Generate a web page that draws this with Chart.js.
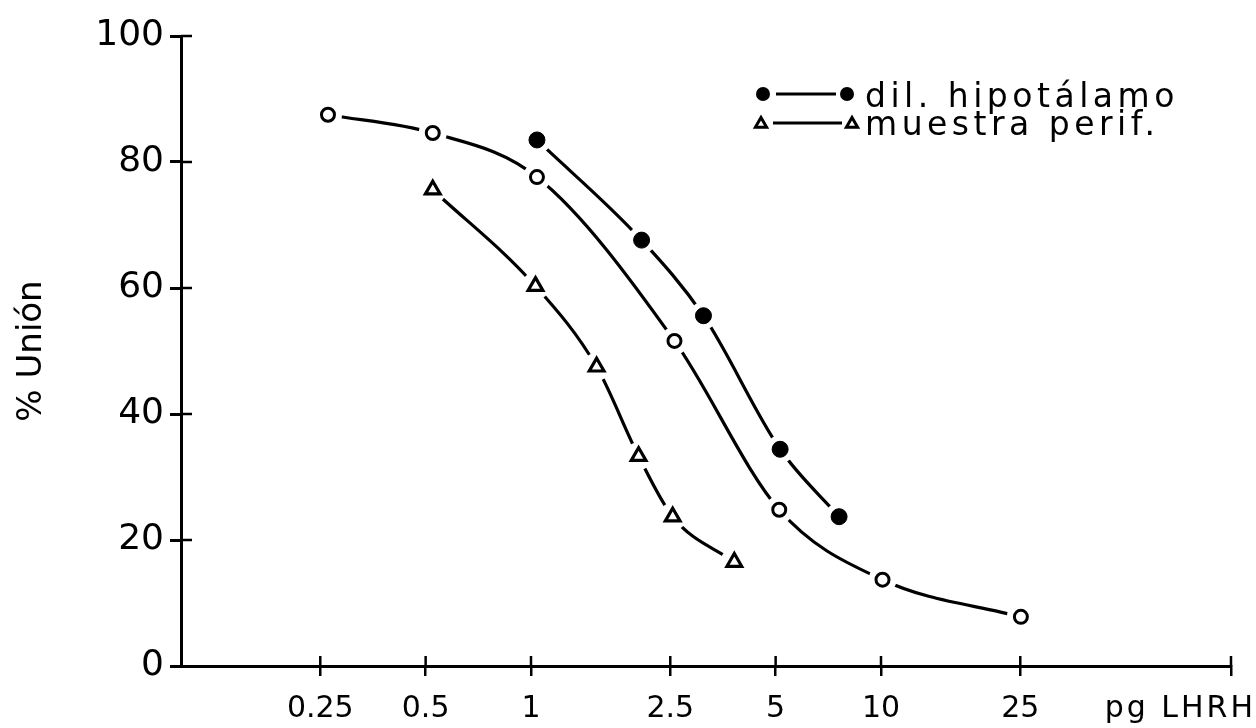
<!DOCTYPE html>
<html>
<head>
<meta charset="utf-8">
<script src="https://cdn.jsdelivr.net/npm/chart.js@4.4.0/dist/chart.umd.min.js"></script>
<style>
html, body { margin: 0; padding: 0; background: #fff; }
#wrap { width: 1256px; height: 728px; }
</style>
</head>
<body>
<div id="wrap"><canvas id="chart" width="1256" height="728"></canvas></div>
<script>
// ───── LHRH displacement curves ─────────────────────────────────────────────
// Log x axis (pg LHRH), % binding on y. Open circles = standard curve,
// filled circles = hypothalamus dilutions, triangles = peripheral sample.

const X_TICKS = [0.25, 0.5, 1, 2.5, 5, 10, 25, 100];
const X_TICK_LABELS = ['0.25', '0.5', '1', '2.5', '5', '10', '25', ''];
const X_UNIT = 'pg LHRH';
const Y_TITLE = '% Unión';

// standard curve (open circles, no legend entry)
const STD_X = [0.263, 0.524, 1.04, 2.57, 5.12, 10.1, 25.1];
const STD_Y = [87.5, 84.6, 77.6, 51.6, 24.8, 13.7, 7.8];

// dil. hipotálamo (filled circles)
const HIPO_X = [1.04, 2.07, 3.11, 5.15, 7.59];
const HIPO_Y = [83.5, 67.6, 55.6, 34.4, 23.7];

// muestra perif. (triangles)
const PERIF_X = [0.524, 1.03, 1.54, 2.03, 2.54, 3.81];
const PERIF_Y = [75.6, 60.3, 47.5, 33.3, 23.7, 16.5];

const LEGEND_LABELS = ['dil. hipotálamo', 'muestra perif.'];

const FONT = "'DejaVu Sans', sans-serif";

function pts(xs, ys) {
  return xs.map((x, i) => ({ x, y: ys[i] }));
}

function curve(xs, ys) {
  return {
    data: pts(xs, ys),
    showLine: true,
    borderColor: '#000',
    borderWidth: 3.2,
    pointRadius: 0,
    cubicInterpolationMode: 'monotone',
    fill: false,
    order: 3,
  };
}

// white disc behind each marker so the line stops short of it
function halo(xs, ys) {
  return {
    data: pts(xs, ys),
    showLine: false,
    pointRadius: 14,
    pointBackgroundColor: '#fff',
    pointBorderWidth: 0,
    order: 2,
  };
}

function marks(xs, ys, style, radius, fillColor, bw) {
  return {
    data: pts(xs, ys),
    showLine: false,
    pointStyle: style,
    pointRadius: radius,
    pointBackgroundColor: fillColor,
    pointBorderColor: '#000',
    pointBorderWidth: bw,
    order: 1,
  };
}

// tick marks that cross the axis line (Chart.js only draws the outer half)
const crossTicks = {
  id: 'crossTicks',
  afterDraw(chart) {
    const { ctx, scales: { x, y }, chartArea } = chart;
    ctx.save();
    ctx.strokeStyle = '#000';
    ctx.lineWidth = 2.5;
    ctx.beginPath();
    x.ticks.forEach((t) => {
      const px = x.getPixelForValue(t.value);
      ctx.moveTo(px, chartArea.bottom);
      ctx.lineTo(px, chartArea.bottom - 10);
    });
    y.ticks.forEach((t) => {
      if (t.value === 0) return;
      const py = y.getPixelForValue(t.value);
      ctx.moveTo(chartArea.left, py);
      ctx.lineTo(chartArea.left + 11, py);
    });
    ctx.stroke();
    ctx.restore();
  },
};

// "pg LHRH" sits in the tick-label row at the right end
const unitLabel = {
  id: 'unitLabel',
  afterDraw(chart) {
    const { ctx, scales: { x } } = chart;
    ctx.save();
    ctx.fillStyle = '#000';
    ctx.font = `30px ${FONT}`;
    ctx.letterSpacing = '3px';
    ctx.textAlign = 'right';
    ctx.textBaseline = 'middle';
    ctx.fillText(X_UNIT, 1256, x.top + 10 + 15 + 18);
    ctx.restore();
  },
};

function drawTri(ctx, cx, cy, r) {
  ctx.beginPath();
  ctx.moveTo(cx, cy - r);
  ctx.lineTo(cx + r * 0.866, cy + r * 0.5);
  ctx.lineTo(cx - r * 0.866, cy + r * 0.5);
  ctx.closePath();
  ctx.fill();
  ctx.stroke();
}

function drawDot(ctx, cx, cy, r) {
  ctx.beginPath();
  ctx.arc(cx, cy, r, 0, Math.PI * 2);
  ctx.fill();
}

const sketchLegend = {
  id: 'sketchLegend',
  afterDraw(chart) {
    const ctx = chart.ctx;
    ctx.save();
    ctx.strokeStyle = '#000';
    ctx.lineWidth = 3;

    // row 1: filled circles
    ctx.fillStyle = '#000';
    drawDot(ctx, 763, 94, 7);
    drawDot(ctx, 847, 94, 7);
    ctx.beginPath();
    ctx.moveTo(776, 94);
    ctx.lineTo(836, 94);
    ctx.stroke();

    // row 2: triangles
    ctx.fillStyle = '#fff';
    drawTri(ctx, 761, 124, 6.5);
    drawTri(ctx, 852, 124, 6.5);
    ctx.beginPath();
    ctx.moveTo(773, 123);
    ctx.lineTo(842, 123);
    ctx.stroke();

    ctx.fillStyle = '#000';
    ctx.font = `33px ${FONT}`;
    ctx.letterSpacing = '4.5px';
    ctx.textAlign = 'left';
    ctx.textBaseline = 'alphabetic';
    ctx.fillText(LEGEND_LABELS[0], 865, 107);
    ctx.fillText(LEGEND_LABELS[1], 865, 135);
    ctx.restore();
  },
};

new Chart(document.getElementById('chart'), {
  type: 'scatter',
  data: {
    datasets: [
      curve(STD_X, STD_Y),
      curve(HIPO_X, HIPO_Y),
      curve(PERIF_X, PERIF_Y),
      halo(STD_X, STD_Y),
      halo(HIPO_X, HIPO_Y),
      halo(PERIF_X, PERIF_Y),
      marks(STD_X, STD_Y, 'circle', 6.5, '#fff', 3),
      marks(HIPO_X, HIPO_Y, 'circle', 8, '#000', 1),
      marks(PERIF_X, PERIF_Y, 'triangle', 8.5, '#fff', 3.2),
    ],
  },
  options: {
    responsive: false,
    animation: false,
    events: [],
    layout: { padding: { left: 0, right: 25, top: 36, bottom: 0 } },
    plugins: {
      legend: { display: false },
      tooltip: { enabled: false },
    },
    scales: {
      x: {
        type: 'logarithmic',
        min: 0.1,
        max: 100,
        afterBuildTicks: (s) => {
          s.ticks = X_TICKS.map((v) => ({ value: v }));
        },
        afterFit: (s) => {
          s.height = 62;
        },
        ticks: {
          autoSkip: false,
          maxRotation: 0,
          padding: 15,
          color: '#000',
          font: { family: FONT, size: 30 },
          callback: (v) => {
            const i = X_TICKS.indexOf(v);
            return i >= 0 ? X_TICK_LABELS[i] : '';
          },
        },
        grid: {
          drawOnChartArea: false,
          drawTicks: true,
          tickLength: 10,
          color: '#000',
          lineWidth: 2.5,
        },
        border: { display: true, color: '#000', width: 3 },
      },
      y: {
        type: 'linear',
        min: 0,
        max: 100,
        afterFit: (s) => {
          s.width = 181;
        },
        ticks: {
          stepSize: 20,
          padding: 6,
          color: '#000',
          font: { family: FONT, size: 36 },
        },
        grid: {
          drawOnChartArea: false,
          drawTicks: true,
          tickLength: 11,
          color: '#000',
          lineWidth: 3,
        },
        border: { display: true, color: '#000', width: 3 },
        title: {
          display: true,
          text: Y_TITLE,
          color: '#000',
          font: { family: FONT, size: 34 },
          padding: { top: 12, bottom: 0 },
        },
      },
    },
  },
  plugins: [crossTicks, unitLabel, sketchLegend],
});
</script>
</body>
</html>
